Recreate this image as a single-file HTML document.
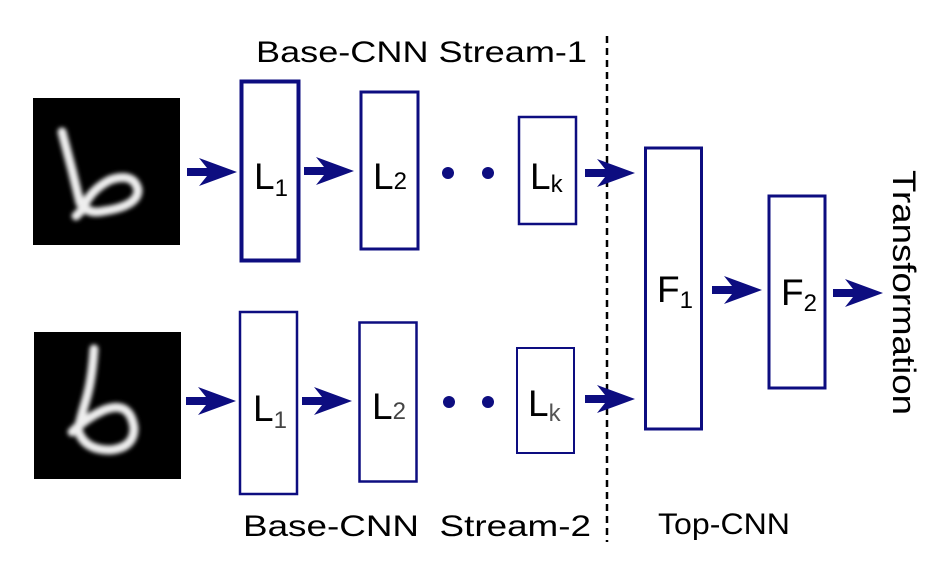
<!DOCTYPE html>
<html><head><meta charset="utf-8"><style>
html,body{margin:0;padding:0;background:#fff;}
svg{display:block;}
text{font-family:"Liberation Sans",Arial,sans-serif;fill:#000;}
</style></head><body>
<svg width="949" height="580" viewBox="0 0 949 580" xmlns="http://www.w3.org/2000/svg">
<defs>
<filter id="bl" x="-20%" y="-20%" width="140%" height="140%"><feGaussianBlur stdDeviation="2.2"/></filter>
<g id="ar"><path d="M0,-4 L20,-4 L12,-14 L50,0 L12,14 L20,4 L0,4 Z" fill="#0d0d80"/></g>
</defs>
<rect width="949" height="580" fill="#fff"/>
<rect x="33" y="98" width="147" height="147" fill="#000"/>
<path d="M62,132 L72,170 L80,203 Q88,215 104,211 Q138,206 138,190 Q134,172 110,180 Q90,190 82,210 L76,216" stroke="#eee" stroke-width="9" fill="none" stroke-linecap="round" stroke-linejoin="round" filter="url(#bl)"/>
<rect x="34" y="332" width="147" height="147" fill="#000"/>
<path d="M94,349 Q92,380 86,400 Q80,420 78,430 Q84,450 110,450 Q134,448 134,428 Q130,400 104,410 Q86,418 72,432" stroke="#eee" stroke-width="9" fill="none" stroke-linecap="round" stroke-linejoin="round" filter="url(#bl)"/>
<g fill="#fff" stroke="#0d0d80">
<rect x="241.5" y="81.5" width="57" height="179" stroke-width="4"/>
<rect x="361" y="92" width="57" height="157" stroke-width="3"/>
<rect x="519" y="117" width="57" height="107" stroke-width="2.5"/>
<rect x="240" y="312" width="57" height="182" stroke-width="2.5"/>
<rect x="359.5" y="322.5" width="57" height="159" stroke-width="2.5"/>
<rect x="517" y="348" width="57" height="105" stroke-width="2"/>
<rect x="645.5" y="148" width="56" height="281" stroke-width="3"/>
<rect x="769" y="196" width="56" height="192" stroke-width="3"/>
</g>
<line x1="607" y1="36" x2="607" y2="542" stroke="#000" stroke-width="2.5" stroke-dasharray="7,5"/>
<use href="#ar" transform="translate(187,172)"/>
<use href="#ar" transform="translate(304,171)"/>
<use href="#ar" transform="translate(585,173)"/>
<use href="#ar" transform="translate(186,401)"/>
<use href="#ar" transform="translate(302,401)"/>
<use href="#ar" transform="translate(585,399)"/>
<use href="#ar" transform="translate(712,290)"/>
<use href="#ar" transform="translate(833,293)"/>
<g fill="#0d0d80">
<circle cx="448" cy="173" r="6"/><circle cx="488" cy="173" r="6"/>
<circle cx="449" cy="402" r="6"/><circle cx="488" cy="402" r="6"/>
</g>
<g font-size="37">
<text x="254" y="189">L<tspan font-size="24" dy="7">1</tspan></text>
<text x="373" y="189">L<tspan font-size="24" dy="0">2</tspan></text>
<text x="530" y="189">L<tspan font-size="24" dy="3">k</tspan></text>
<text x="253" y="421" fill="#222">L<tspan font-size="24" dy="7" fill="#444">1</tspan></text>
<text x="372" y="419" fill="#222">L<tspan font-size="24" dy="0" fill="#444">2</tspan></text>
<text x="528" y="416" fill="#222">L<tspan font-size="24" dy="5" fill="#555">k</tspan></text>
<text x="657" y="302">F<tspan font-size="24" dy="6">1</tspan></text>
<text x="781" y="305">F<tspan font-size="24" dy="6">2</tspan></text>
</g>
<text x="256" y="62" font-size="30" textLength="331" lengthAdjust="spacingAndGlyphs">Base-CNN Stream-1</text>
<text x="243" y="536" font-size="30" textLength="348" lengthAdjust="spacingAndGlyphs" xml:space="preserve">Base-CNN  Stream-2</text>
<text x="658" y="534" font-size="30" textLength="132" lengthAdjust="spacingAndGlyphs">Top-CNN</text>
<text transform="translate(893,170) rotate(90)" font-size="32" textLength="245" lengthAdjust="spacingAndGlyphs">Transformation</text>
</svg>
</body></html>
